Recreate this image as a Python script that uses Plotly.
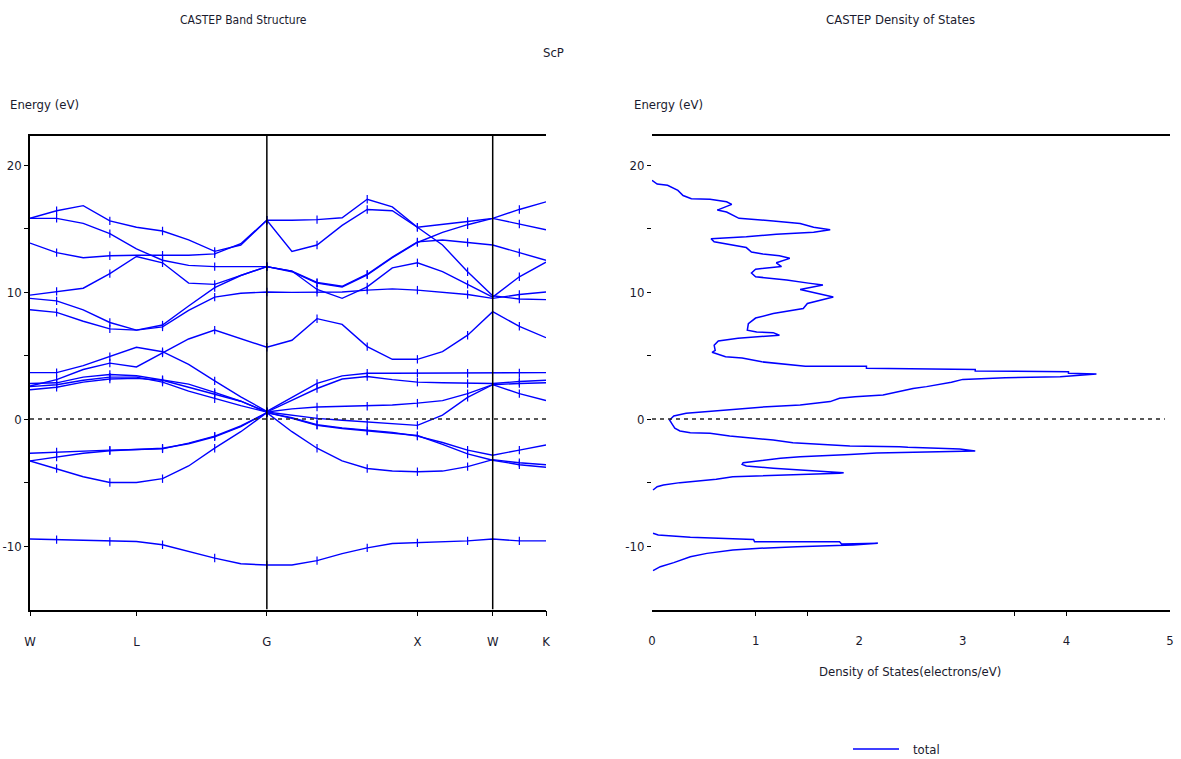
import numpy as np
import plotly.graph_objects as go

# ---- k-path of the fcc Brillouin zone (distances in units of 2*pi/a) ----
sym_labels = ["W", "L", "G", "X", "W", "K"]
sym_k = [0.0, 0.707, 1.573, 2.573, 3.073, 3.427]
seg_steps = [4, 5, 6, 3, 2]

k_path = [sym_k[0]]
for i, n in enumerate(seg_steps):
    k_path.extend(np.linspace(sym_k[i], sym_k[i + 1], n + 1)[1:].tolist())

# ---- band energies (eV) sampled along the path W-L-G-X-W-K ----
band_s = [-9.45, -9.5, -9.6, -9.65, -9.65, -9.9, -10.45, -10.95, -11.4, -11.5,
          -11.5, -11.15, -10.6, -10.15, -9.8, -9.75, -9.7, -9.6, -9.45, -9.6, -9.6]
band_p1 = [-3.3, -3.9, -4.55, -5.0, -5.0, -4.7, -3.7, -2.3, -1.0, 0.5,
           -1.0, -2.3, -3.3, -3.9, -4.1, -4.15, -4.1, -3.75, -3.2, -3.45, -3.6]
band_p2 = [-3.3, -3.0, -2.7, -2.5, -2.4, -2.3, -1.95, -1.4, -0.6, 0.5,
           0.1, -0.45, -0.7, -0.9, -1.05, -1.35, -1.85, -2.45, -2.85, -2.45, -2.05]
band_p3 = [-2.7, -2.6, -2.5, -2.45, -2.4, -2.35, -1.9, -1.35, -0.55, 0.5,
           0.05, -0.5, -0.75, -0.95, -1.1, -1.3, -2.0, -2.75, -3.25, -3.6, -3.8]
band_d1 = [2.3, 2.5, 2.9, 3.15, 3.2, 3.05, 2.5, 1.95, 1.4, 0.55,
           0.3, 0.05, -0.1, -0.25, -0.35, -0.5, 0.3, 1.7, 2.7, 2.0, 1.45]
band_d2 = [2.55, 2.7, 3.05, 3.3, 3.3, 2.9, 2.2, 1.6, 1.05, 0.55,
           0.8, 0.95, 1.0, 1.0, 1.1, 1.25, 1.45, 2.0, 2.7, 2.8, 2.85]
band_d3 = [2.8, 2.85, 3.3, 3.5, 3.4, 3.1, 2.75, 2.1, 1.4, 0.55,
           1.5, 2.4, 3.15, 3.35, 3.1, 2.9, 2.85, 2.8, 2.8, 2.95, 3.05]
band_d4 = [3.65, 3.65, 4.2, 4.9, 5.65, 5.3, 4.3, 3.0, 1.75, 0.6,
           1.7, 2.8, 3.4, 3.6, 3.6, 3.6, 3.6, 3.6, 3.6, 3.62, 3.65]
band_d5 = [2.6, 3.1, 3.9, 4.4, 4.1, 5.2, 6.3, 7.0, 6.3, 5.65,
           6.2, 7.9, 7.45, 5.7, 4.7, 4.7, 5.3, 6.6, 8.45, 7.3, 6.4]
band_c1 = [15.8, 16.4, 16.8, 15.6, 15.1, 14.8, 14.1, 13.2, 13.7, 15.65,
           15.65, 15.7, 15.85, 17.3, 16.7, 15.1, 13.7, 11.6, 9.7, 9.45, 9.4]
band_c2 = [13.85, 13.1, 12.7, 12.85, 12.9, 12.9, 12.9, 13.0, 13.8, 15.65,
           13.2, 13.7, 15.25, 16.5, 16.4, 15.1, 15.3, 15.55, 15.8, 16.5, 17.1]
band_c3 = [15.8, 15.8, 15.4, 14.6, 13.4, 12.5, 12.1, 12.0, 12.0, 12.0,
           11.6, 10.7, 10.4, 11.35, 12.7, 13.9, 14.7, 15.3, 15.8, 15.35, 14.9]
band_c4 = [8.6, 8.4, 7.7, 7.1, 7.0, 7.4, 8.9, 10.35, 11.3, 12.0,
           11.65, 10.75, 10.45, 11.4, 12.75, 13.95, 14.1, 13.9, 13.7, 13.1, 12.5]
band_c5 = [9.75, 10.05, 10.3, 11.45, 12.8, 12.3, 10.7, 10.6, 11.3, 12.0,
           11.65, 10.2, 9.5, 10.4, 11.9, 12.3, 11.6, 10.6, 9.6, 11.2, 12.35]
band_c6 = [9.5, 9.3, 8.6, 7.6, 7.0, 7.25, 8.55, 9.6, 9.9, 10.0,
           9.97, 9.98, 10.0, 10.15, 10.25, 10.15, 10.0, 9.8, 9.5, 9.8, 10.0]

bands = [band_s, band_p1, band_p2, band_p3, band_d1, band_d2, band_d3, band_d4,
         band_d5, band_c1, band_c2, band_c3, band_c4, band_c5, band_c6]

# ---- total density of states (electrons/eV) versus energy (eV) ----
dos_energy = [18.8, 18.5, 18.4, 18.0, 17.6, 17.35, 17.3, 17.1, 16.9, 16.45,
              16.3, 16.05, 15.8, 15.6, 15.4, 15.1, 14.9, 14.7, 14.55, 14.35,
              14.2, 13.95, 13.7, 13.5, 13.15, 13.0, 12.85, 12.65, 12.3, 12.0,
              11.8, 11.5, 11.2, 10.95, 10.7, 10.55, 10.2, 9.9, 9.6, 9.1,
              8.7, 8.3, 7.95, 7.5, 7.0, 6.85, 6.8, 6.6, 6.35, 6.15,
              5.8, 5.4, 5.25, 4.9, 4.8, 4.5, 4.15, 4.15, 4.0, 3.9,
              3.78, 3.73, 3.6, 3.54, 3.33, 3.25, 3.12, 2.89, 2.68, 2.55,
              2.41, 2.2, 1.89, 1.76, 1.63, 1.37, 1.1, 0.97, 0.76, 0.58,
              0.45, 0.24, -0.08, -0.34, -0.73, -0.94, -1.08, -1.13, -1.34, -1.52,
              -1.65, -1.86, -1.99, -2.13, -2.18, -2.23, -2.31, -2.36, -2.52, -2.6,
              -2.68, -2.8, -2.85, -2.97, -3.1, -3.28, -3.44, -3.57, -3.7, -3.88,
              -4.02, -4.1, -4.15, -4.23, -4.28, -4.41, -4.45, -4.54, -4.75, -4.88,
              -5.01, -5.2, -5.33, -5.59, None, -9.0, -9.13, -9.32, -9.48, -9.66,
              -9.66, -9.84, -9.79, -9.92, -10.0, -10.05, -10.18, -10.31, -10.58, -10.84,
              -11.31, -11.63, -11.94]
dos_total = [0.0, 0.05, 0.15, 0.25, 0.3, 0.38, 0.56, 0.72, 0.77, 0.63,
             0.72, 0.78, 0.84, 1.17, 1.43, 1.56, 1.72, 1.56, 1.2, 0.91,
             0.57, 0.6, 0.78, 0.91, 0.96, 1.07, 1.23, 1.33, 1.2, 1.25,
             1.0, 0.96, 1.0, 1.3, 1.51, 1.65, 1.43, 1.6, 1.75, 1.5,
             1.46, 1.17, 1.0, 0.93, 0.92, 1.01, 1.17, 1.23, 0.83, 0.64,
             0.6, 0.61, 0.58, 0.71, 0.87, 1.06, 1.48, 2.07, 2.07, 3.12,
             3.12, 4.02, 4.02, 4.29, 3.94, 3.41, 3.0, 2.89, 2.75, 2.65,
             2.52, 2.39, 2.23, 1.96, 1.81, 1.72, 1.43, 1.11, 0.78, 0.56,
             0.33, 0.21, 0.17, 0.19, 0.22, 0.27, 0.37, 0.56, 0.75, 0.98,
             1.17, 1.36, 1.59, 1.91, 2.39, 2.47, 2.76, 2.97, 3.12, 2.76,
             2.17, 1.91, 1.72, 1.43, 1.24, 1.04, 0.88, 0.87, 0.91, 1.17,
             1.43, 1.62, 1.75, 1.85, 1.81, 1.3, 0.95, 0.78, 0.62, 0.46,
             0.27, 0.11, 0.05, 0.01, None, 0.01, 0.06, 0.37, 0.98, 0.99,
             1.81, 1.83, 2.18, 1.94, 1.43, 1.4, 1.04, 0.78, 0.53, 0.37,
             0.21, 0.08, 0.01]
dos_series_name = "total"

energy_ticks = [-10, 0, 10, 20]
energy_labels = ["-10", "0", "10", "20"]
energy_minor = [-5, 5, 15]
dos_ticks = [0, 1, 2, 3, 4, 5]
dos_minor = [1, 1.5, 3.5, 4]

# ---- styling ----
W, H = 1181, 759
BLUE = "#0000ff"
INK = "#1a1a2e"
FONT = "DejaVu Sans Condensed, Liberation Sans Narrow, sans-serif"
E_MIN, E_MAX = -15, 22.3

def px_x(p):
    return p / W

def px_y(p):
    return 1 - p / H

fig = go.Figure()

for b in bands:
    fig.add_trace(go.Scatter(x=k_path, y=b, mode="lines", xaxis="x", yaxis="y",
                             line=dict(color=BLUE, width=1.4), showlegend=False,
                             hoverinfo="skip"))

# small tick marks along the bands
mk_x, mk_y = [], []
for b in bands:
    for i in range(1, len(k_path), 2):
        mk_x.append(k_path[i])
        mk_y.append(b[i])
fig.add_trace(go.Scatter(x=mk_x, y=mk_y, mode="markers", xaxis="x", yaxis="y",
                         marker=dict(symbol="line-ns", size=6,
                                     line=dict(color=BLUE, width=1.2)),
                         showlegend=False, hoverinfo="skip"))

fig.add_trace(go.Scatter(x=dos_total, y=dos_energy, mode="lines",
                         name=dos_series_name, showlegend=False,
                         xaxis="x2", yaxis="y2", connectgaps=False,
                         line=dict(color=BLUE, width=1.5)))

y_dom = [px_y(609.5), px_y(135.8)]
axis_common = dict(showgrid=False, zeroline=False, linecolor="black", linewidth=1.5,
                   tickcolor="black", tickfont=dict(family=FONT, size=13, color=INK))

fig.update_layout(
    width=W, height=H,
    margin=dict(l=0, r=0, t=0, b=0, autoexpand=False),
    paper_bgcolor="white", plot_bgcolor="white",
    font=dict(family=FONT, size=13, color=INK),
    xaxis=dict(domain=[px_x(30), px_x(546)], range=[0, sym_k[-1]],
               tickvals=sym_k, ticktext=sym_labels, ticks="outside", ticklen=5,
               ticklabelstandoff=14, showline=True, mirror=True, anchor="y",
               **axis_common),
    yaxis=dict(domain=y_dom, range=[E_MIN, E_MAX], tickvals=energy_ticks,
               ticktext=energy_labels,
               ticks="outside", ticklen=4, showline=True, anchor="x",
               minor=dict(tickvals=energy_minor, ticks="outside", ticklen=4,
                          tickcolor="black"),
               **axis_common),
    xaxis2=dict(domain=[px_x(652), px_x(1170)], range=[0, 5], tickvals=dos_ticks,
                ticks="", ticklabelstandoff=18, showline=True, mirror=True,
                anchor="y2",
                minor=dict(tickvals=dos_minor, ticks="outside", ticklen=5,
                           tickcolor="black"),
                **axis_common),
    yaxis2=dict(domain=y_dom, range=[E_MIN, E_MAX], tickvals=energy_ticks,
                ticktext=energy_labels,
                ticks="outside", ticklen=4, showline=False, anchor="x2",
                minor=dict(tickvals=energy_minor, ticks="outside", ticklen=4,
                           tickcolor="black"),
                **axis_common),
    showlegend=False,
)

# vertical lines at the interior high-symmetry points G and W
for kv in (sym_k[2], sym_k[4]):
    fig.add_shape(type="line", xref="x", yref="y", x0=kv, x1=kv, y0=E_MIN, y1=E_MAX,
                  line=dict(color="black", width=1.5))

# Fermi level
fig.add_shape(type="line", xref="x domain", yref="y", x0=0, x1=1, y0=0, y1=0,
              line=dict(color="#222222", width=1.5, dash="4px,4px"))
fig.add_shape(type="line", xref="x2 domain", yref="y2", x0=0, x1=0.99, y0=0, y1=0,
              line=dict(color="#222222", width=1.5, dash="4px,4px"))

# legend key for the DOS curve
fig.add_shape(type="line", xref="paper", yref="paper",
              x0=px_x(853), x1=px_x(899), y0=px_y(749), y1=px_y(749),
              line=dict(color=BLUE, width=1.5))

texts = [
    ("CASTEP Band Structure", 243, 20, "center", 12),
    ("CASTEP Density of States", 900, 20, "center", 13),
    ("ScP", 553, 52, "center", 13),
    ("Energy (eV)", 8, 104, "left", 13),
    ("Energy (eV)", 632, 104, "left", 13),
    ("Density of States(electrons/eV)", 910, 671, "center", 13),
    (dos_series_name, 911, 749, "left", 13),
]
for t, x, y, anc, fs in texts:
    fig.add_annotation(text=t, x=px_x(x), y=px_y(y), xref="paper", yref="paper",
                       xanchor=anc, yanchor="middle", showarrow=False,
                       font=dict(family=FONT, size=fs, color=INK))

fig.write_html("out.html")
